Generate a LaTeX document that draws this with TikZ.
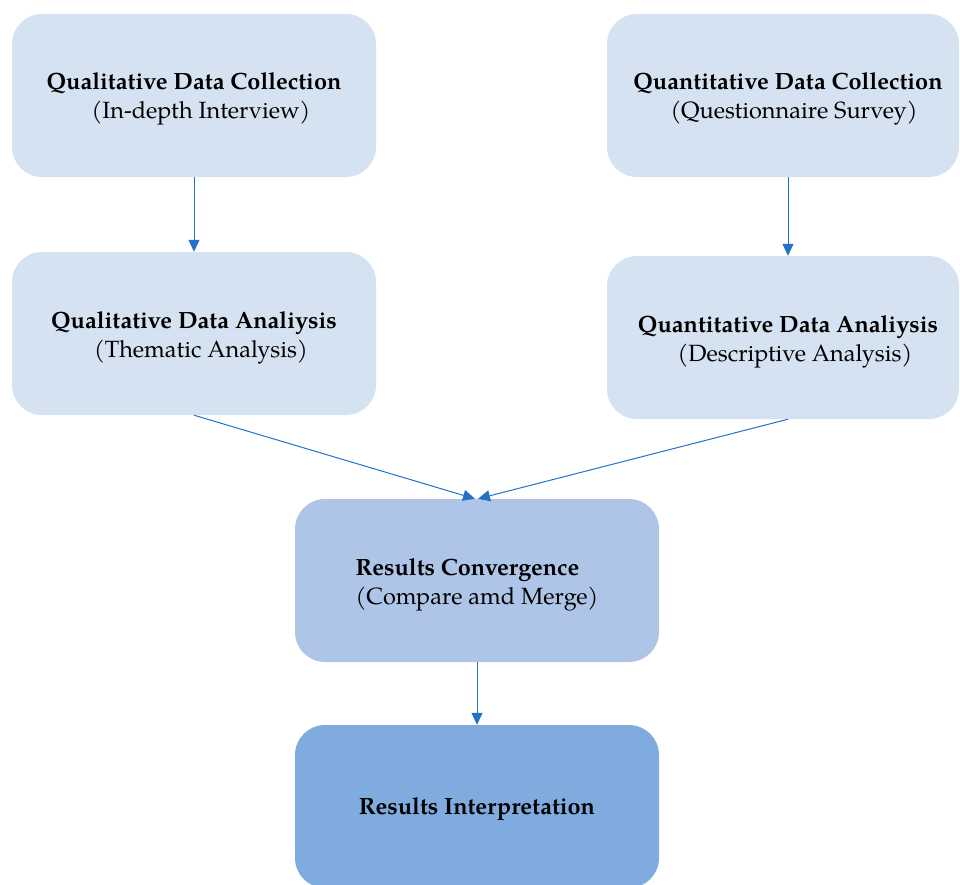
\documentclass[tikz,border=0pt]{standalone}
\usepackage{fontspec}
\setmainfont{TeX Gyre Pagella}
\usetikzlibrary{arrows.meta}
\definecolor{boxA}{HTML}{D5E2F1}
\definecolor{boxB}{HTML}{AFC5E8}
\definecolor{boxC}{HTML}{7FABDF}
\definecolor{arr}{HTML}{2472C8}
\begin{document}
\begin{tikzpicture}[x=1pt,y=-1pt,
  box/.style={rounded corners=30pt, minimum width=364pt, minimum height=163pt, inner sep=0pt},
  txt/.style={inner sep=0pt, align=center, font=\fontsize{23.5}{29.5}\selectfont},
  conn/.style={draw=arr, line width=1pt, -{Triangle[length=12pt,width=11pt]}}]
\useasboundingbox (0,0) rectangle (960,884);
\clip (0,0) rectangle (960,884);
\node[box, fill=boxA] (ql1) at (194,95.5) {};
\node[box, fill=boxA, minimum width=352pt] (qn1) at (783,95.5) {};
\node[box, fill=boxA] (ql2) at (194,333.5) {};
\node[box, fill=boxA, minimum width=352pt] (qn2) at (783,337.5) {};
\node[box, fill=boxB] (rc) at (477,580.5) {};
\node[box, fill=boxC] (ri) at (477,806.5) {};
\node[txt] (ql1t) at ([yshift=-3.5pt]ql1.center) {\textbf{Qualitative Data Collection}\\\hspace*{14pt}(In-depth Interview)};
\node[txt] (qn1t) at ([xshift=5pt,yshift=-3.5pt]qn1.center) {\textbf{Quantitative Data Collection}\\\hspace*{12pt}(Questionnaire Survey)};
\node[txt] (ql2t) at ([yshift=-4.5pt]ql2.center) {\textbf{Qualitative Data Analiysis}\\\hspace*{14pt}(Thematic Analysis)};
\node[txt] (qn2t) at ([xshift=5pt,yshift=-4.5pt]qn2.center) {\textbf{Quantitative Data Analiysis}\\\hspace*{14pt}(Descriptive Analysis)};
\node[txt, align=left] (rct) at ([yshift=-4.5pt]rc.center) {\textbf{Results Convergence}\\(Compare amd Merge)};
\node[txt] (rit) at ([yshift=-3pt]ri.center) {\textbf{Results Interpretation}};
\draw[conn] (ql1.south) -- (ql2.north);
\draw[conn] (qn1.south -| qn1t) -- (qn2.north -| qn1t);
\draw[conn] (ql2.south) -- ([xshift=-2pt]rc.north);
\draw[conn] (qn2.south -| qn2t) -- ([xshift=1pt]rc.north);
\draw[conn] (rc.south) -- (ri.north);
\end{tikzpicture}
\end{document}
